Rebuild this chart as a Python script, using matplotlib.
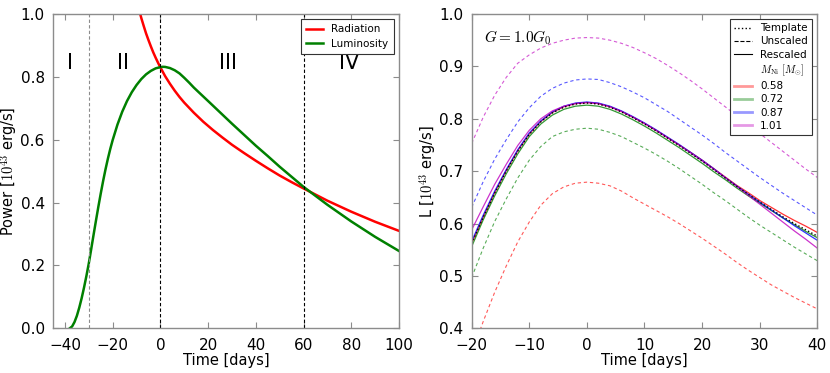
import matplotlib
matplotlib.use("Agg")
import matplotlib.pyplot as plt
from matplotlib.lines import Line2D

plt.rcParams['font.family'] = ['DejaVu Sans']
plt.rcParams['mathtext.fontset'] = 'cm'

# ---------------- Left panel data ----------------
rad_days = [-9, -8, -7, -6, -5, -4, -3, -2, -1, 0, 2, 4, 6, 8, 10, 14, 18, 22, 26, 30,
            35, 40, 45, 50, 55, 60, 70, 80, 90, 100]
radiation = [1.015, 0.987, 0.962, 0.938, 0.917, 0.897, 0.878, 0.861, 0.845, 0.830,
             0.802, 0.778, 0.756, 0.736, 0.718, 0.686, 0.657, 0.631, 0.607, 0.584,
             0.558, 0.533, 0.509, 0.486, 0.465, 0.445, 0.406, 0.371, 0.339, 0.310]

lum_days = [-38, -37, -36, -35, -34, -33, -32, -31, -30, -29, -28, -27, -26, -25, -24,
            -23, -22, -21, -20, -18, -16, -14, -12, -10, -8, -6, -4, -2, 0, 1, 2, 4,
            6, 8, 10, 12, 14, 16.5, 20, 25, 30, 35, 40, 45, 50, 55, 60, 70, 80, 90, 100]
luminosity = [0.000, 0.006, 0.020, 0.040, 0.066, 0.096, 0.130, 0.167, 0.207, 0.252,
              0.298, 0.343, 0.387, 0.429, 0.469, 0.506, 0.540, 0.571, 0.599, 0.648,
              0.689, 0.723, 0.751, 0.774, 0.793, 0.808, 0.819, 0.827, 0.831, 0.832,
              0.8316, 0.828, 0.821, 0.811, 0.797, 0.782, 0.766, 0.748, 0.723, 0.687,
              0.651, 0.616, 0.581, 0.548, 0.514, 0.482, 0.450, 0.393, 0.340, 0.291, 0.246]

phase_lines = [-30, 0, 60]
phase_colors = ['0.55', 'k', 'k']
phase_labels = ['I', 'II', 'III', 'IV']
phase_label_x = [-38, -15.7, 28.5, 79]

# ---------------- Right panel data ----------------
days = [-20, -18, -16, -14, -12, -10, -8, -6, -4, -2, 0, 2, 4, 6, 8, 10, 12, 14, 16,
        18, 20, 22, 24, 26, 28, 30, 32, 34, 36, 38, 40]

template = [0.562, 0.612, 0.658, 0.700, 0.738, 0.770, 0.794, 0.811, 0.822, 0.828, 0.830,
            0.828, 0.822, 0.813, 0.802, 0.790, 0.777, 0.763, 0.749, 0.734, 0.719, 0.703,
            0.687, 0.671, 0.656, 0.641, 0.627, 0.613, 0.600, 0.588, 0.576]

mni_labels = ['0.58', '0.72', '0.87', '1.01']
mni_colors = ['r', 'g', 'b', 'm']

unscaled_058 = [0.353, 0.413, 0.469, 0.519, 0.565, 0.603, 0.635, 0.657, 0.670, 0.677, 0.679,
                0.677, 0.672, 0.662, 0.649, 0.637, 0.625, 0.613, 0.600, 0.586, 0.572, 0.557,
                0.542, 0.526, 0.511, 0.497, 0.483, 0.471, 0.459, 0.448, 0.437]
unscaled_072 = [0.497, 0.553, 0.604, 0.647, 0.687, 0.721, 0.747, 0.766, 0.775, 0.780, 0.782,
                0.780, 0.774, 0.766, 0.755, 0.744, 0.732, 0.719, 0.705, 0.690, 0.675, 0.659,
                0.644, 0.628, 0.612, 0.597, 0.583, 0.569, 0.555, 0.542, 0.529]
unscaled_087 = [0.631, 0.680, 0.723, 0.760, 0.794, 0.821, 0.843, 0.858, 0.868, 0.874, 0.876,
                0.875, 0.869, 0.861, 0.851, 0.840, 0.827, 0.814, 0.799, 0.784, 0.769, 0.753,
                0.736, 0.720, 0.704, 0.688, 0.673, 0.658, 0.644, 0.630, 0.616]
unscaled_101 = [0.753, 0.803, 0.845, 0.879, 0.906, 0.922, 0.935, 0.944, 0.950, 0.954, 0.955,
                0.954, 0.950, 0.944, 0.936, 0.926, 0.915, 0.902, 0.888, 0.873, 0.857, 0.840,
                0.823, 0.806, 0.789, 0.772, 0.755, 0.738, 0.721, 0.704, 0.688]

rescaled_058 = [0.562, 0.612, 0.659, 0.701, 0.739, 0.771, 0.795, 0.812, 0.823, 0.829, 0.831,
                0.829, 0.823, 0.814, 0.803, 0.791, 0.778, 0.764, 0.750, 0.736, 0.721, 0.705,
                0.689, 0.673, 0.659, 0.644, 0.631, 0.618, 0.606, 0.595, 0.583]
rescaled_072 = [0.556, 0.607, 0.653, 0.695, 0.733, 0.766, 0.790, 0.807, 0.818, 0.824, 0.826,
                0.824, 0.818, 0.809, 0.798, 0.786, 0.773, 0.759, 0.745, 0.730, 0.715, 0.699,
                0.684, 0.668, 0.653, 0.639, 0.625, 0.611, 0.598, 0.585, 0.573]
rescaled_087 = [0.566, 0.616, 0.662, 0.703, 0.741, 0.773, 0.796, 0.813, 0.824, 0.830, 0.832,
                0.830, 0.824, 0.815, 0.804, 0.792, 0.779, 0.765, 0.751, 0.736, 0.721, 0.705,
                0.688, 0.672, 0.656, 0.641, 0.626, 0.611, 0.596, 0.582, 0.568]
rescaled_101 = [0.588, 0.632, 0.675, 0.713, 0.749, 0.778, 0.800, 0.815, 0.824, 0.829, 0.831,
                0.829, 0.823, 0.814, 0.803, 0.791, 0.778, 0.764, 0.750, 0.735, 0.720, 0.704,
                0.688, 0.671, 0.654, 0.637, 0.620, 0.603, 0.586, 0.570, 0.553]

unscaled = [unscaled_058, unscaled_072, unscaled_087, unscaled_101]
rescaled = [rescaled_058, rescaled_072, rescaled_087, rescaled_101]

# ---------------- Figure ----------------
fig = plt.figure(figsize=(8.3, 3.73), dpi=100)
ax1 = fig.add_axes([0.0639, 0.1198, 0.4168, 0.8427])
ax2 = fig.add_axes([0.5683, 0.1198, 0.4164, 0.8427])

spine_col = '0.55'
for ax in (ax1, ax2):
    for s in ax.spines.values():
        s.set_color(spine_col)
        s.set_linewidth(1.0)
    ax.tick_params(direction='in', top=True, right=True, length=4, width=0.8,
                   color=spine_col, labelsize=11)
    ax.tick_params(axis='x', pad=7)
    ax.tick_params(axis='y', pad=6)

# Left
ax1.plot(rad_days, radiation, color='red', lw=1.8, label='Radiation')
ax1.plot(lum_days, luminosity, color='green', lw=1.8, label='Luminosity')
for xv, c in zip(phase_lines, phase_colors):
    ax1.axvline(xv, color=c, ls='--', lw=0.8, dashes=(3, 2))
for lab, xv in zip(phase_labels, phase_label_x):
    ax1.text(xv, 0.843, lab, fontsize=15, ha='center', va='center')
ax1.set_xlim(-45, 100)
ax1.set_ylim(0, 1.0)
ax1.set_xticks([-40, -20, 0, 20, 40, 60, 80, 100])
ax1.set_yticks([0.0, 0.2, 0.4, 0.6, 0.8, 1.0])
ax1.set_xlabel('Time [days]', fontsize=10.5, labelpad=0)
ax1.set_ylabel('Power [$10^{43}$ erg/s]', fontsize=10.5)
ax1.yaxis.set_label_coords(-0.097, 0.5)
leg1 = ax1.legend(loc='upper right', fontsize=7.5, fancybox=False, framealpha=1,
                  edgecolor='0.2', handlelength=1.6, borderpad=0.5, labelspacing=0.45)
leg1.get_frame().set_linewidth(0.8)

# Right
for ys, c in zip(unscaled, mni_colors):
    ax2.plot(days, ys, color=c, ls='--', lw=0.8, alpha=0.65, dashes=(3, 2.5))
for ys, c in zip(rescaled, mni_colors):
    ax2.plot(days, ys, color=c, ls='-', lw=0.9, alpha=0.8)
ax2.plot(days, template, color='k', ls=':', lw=1.0)
ax2.set_xlim(-20, 40)
ax2.set_ylim(0.4, 1.0)
ax2.set_xticks([-20, -10, 0, 10, 20, 30, 40])
ax2.set_yticks([0.4, 0.5, 0.6, 0.7, 0.8, 0.9, 1.0])
ax2.set_xlabel('Time [days]', fontsize=10.5, labelpad=0)
ax2.set_ylabel('L [$10^{43}$ erg/s]', fontsize=10.5)
ax2.yaxis.set_label_coords(-0.097, 0.5)
ax2.text(0.035, 0.955, '$G = 1.0 G_0$', transform=ax2.transAxes, fontsize=11,
         ha='left', va='top')

handles = [Line2D([], [], color='k', ls=':', lw=1.0),
           Line2D([], [], color='k', ls='--', lw=0.8),
           Line2D([], [], color='k', ls='-', lw=0.8),
           Line2D([], [], color='none')]
labels = ['Template', 'Unscaled', 'Rescaled', r'$M_{\rm Ni}\ [M_{\odot}]$']
for c, lab in zip(mni_colors, mni_labels):
    handles.append(Line2D([], [], color=c, lw=2, alpha=0.4))
    labels.append(lab)
leg2 = ax2.legend(handles, labels, loc='upper right', fontsize=7.5, fancybox=False,
                  framealpha=1, edgecolor='0.2', handlelength=1.7, borderpad=0.4,
                  labelspacing=0.3)
leg2.get_frame().set_linewidth(0.8)

fig.savefig('out.png', dpi=100)
